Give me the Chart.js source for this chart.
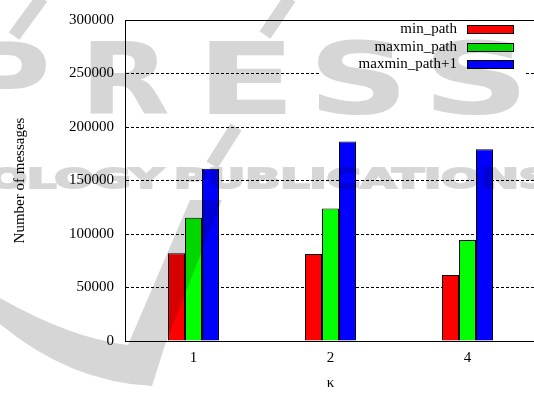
<!DOCTYPE html>
<html>
<head>
<meta charset="utf-8">
<script src="https://cdn.jsdelivr.net/npm/chart.js@4/dist/chart.umd.min.js"></script>
<style>
  html, body { margin: 0; padding: 0; background: #fff; overflow: hidden; }
  #wrap { width: 536px; height: 393px; }
</style>
</head>
<body>
<div id="wrap"><canvas id="c" width="536" height="393"></canvas></div>
<script>
// Number of messages for each value of kappa
const categories = ['1', '2', '4'];
const minPath = [82000, 81300, 61700];
const maxminPath = [115300, 123900, 94500];
const maxminPathPlus1 = [161000, 186500, 179200];
const yTickValues = [0, 50000, 100000, 150000, 200000, 250000, 300000];
const seriesNames = ['min_path', 'maxmin_path', 'maxmin_path+1'];
const seriesColors = ['#ff0000', '#00ff00', '#0000ff'];

const FONT = "'Liberation Serif', 'Times New Roman', serif";

// Key in the upper right corner of the plot, text left of each swatch
const keyPlugin = {
  id: 'key',
  afterDatasetsDraw(chart) {
    const ctx = chart.ctx;
    ctx.save();
    ctx.fillStyle = '#fff';
    ctx.fillRect(320, 19, 205, 57);
    ctx.font = '15px ' + FONT;
    ctx.textAlign = 'right';
    ctx.textBaseline = 'middle';
    chart.data.datasets.forEach((ds, i) => {
      const cy = 29.5 + i * 17.5;
      ctx.fillStyle = '#000';
      ctx.fillText(ds.label, 457, cy);
      ctx.fillStyle = ds.backgroundColor;
      ctx.fillRect(467, Math.round(cy - 4.5), 47, 9);
      ctx.strokeStyle = '#000';
      ctx.lineWidth = 1;
      ctx.strokeRect(467.5, Math.round(cy - 4.5) + 0.5, 46, 8);
    });
    // top edge of the plot frame
    const a = chart.chartArea;
    ctx.beginPath();
    ctx.moveTo(a.left, a.top + 0.5);
    ctx.lineTo(a.right, a.top + 0.5);
    ctx.strokeStyle = '#000';
    ctx.stroke();
    ctx.restore();
  }
};

// Publisher mark laid over the page in light grey
function fitText(c, text, x0, x1, baseline, font, spacing, thicken) {
  c.font = font;
  c.letterSpacing = spacing + 'px';
  const w = c.measureText(text).width - spacing;
  c.save();
  c.translate(x0, baseline);
  c.scale((x1 - x0) / w, 1);
  c.fillText(text, 0, 0);
  if (thicken) {
    c.lineWidth = thicken;
    c.strokeText(text, 0, 0);
  }
  c.restore();
  c.letterSpacing = '0px';
}

const markPlugin = {
  id: 'mark',
  afterDraw(chart) {
    const W = chart.width, H = chart.height;
    const off = document.createElement('canvas');
    off.width = W; off.height = H;
    const o = off.getContext('2d');
    const grey = 'rgb(214,214,214)';
    o.fillStyle = grey;
    o.strokeStyle = grey;
    o.textBaseline = 'alphabetic';
    const big = "bold 99px 'DejaVu Sans'";
    fitText(o, 'P', -40, 51, 114, big, 0, 0);
    fitText(o, 'R', 80, 170, 114, big, 0, 0);
    fitText(o, 'E', 196, 296, 114, big, 0, 0);
    fitText(o, 'S', 308, 409, 114, big, 0, 0);
    fitText(o, 'S', 422, 530, 114, big, 0, 0);
    const small = "bold 27px 'DejaVu Sans'";
    fitText(o, 'OLOGY', -12, 163, 188, small, 0, 2);
    fitText(o, 'PUBLICATIONS', 174, 552, 188, small, 0, 2);
    o.lineCap = 'butt';
    o.lineWidth = 13;
    [[[42, -2], [14, 36]], [[290, -2], [265, 35]], [[236, 127], [212, 165]]].forEach(s => {
      o.beginPath();
      o.moveTo(s[0][0], s[0][1]);
      o.lineTo(s[1][0], s[1][1]);
      o.stroke();
    });
    o.beginPath();
    o.moveTo(190, 200);
    o.lineTo(222, 200);
    o.lineTo(165, 345);
    o.lineTo(152, 386);
    o.quadraticCurveTo(70, 382, 0, 324);
    o.lineTo(0, 298);
    o.quadraticCurveTo(70, 338, 128, 345);
    o.closePath();
    o.fill();
    const ctx = chart.ctx;
    ctx.save();
    ctx.globalCompositeOperation = 'multiply';
    ctx.drawImage(off, 0, 0);
    ctx.restore();
  }
};

const seriesValues = [minPath, maxminPath, maxminPathPlus1];

new Chart(document.getElementById('c'), {
  type: 'bar',
  data: {
    labels: categories,
    datasets: seriesValues.map((vals, i) => ({
      label: seriesNames[i],
      data: vals,
      backgroundColor: seriesColors[i],
      borderColor: '#000',
      borderWidth: 1,
      categoryPercentage: 0.372,
      barPercentage: 1.0
    }))
  },
  options: {
    responsive: false,
    animation: false,
    devicePixelRatio: 1,
    layout: { padding: { top: 15, left: 0, right: 0, bottom: 0 } },
    plugins: {
      legend: { display: false },
      tooltip: { enabled: false }
    },
    scales: {
      x: {
        type: 'category',
        offset: true,
        grid: { display: false, drawTicks: false },
        border: { display: true, color: '#000', width: 1 },
        ticks: { color: '#000', font: { family: FONT, size: 15 }, padding: 8, maxRotation: 0 },
        title: {
          display: true, text: 'κ', color: '#000',
          font: { family: FONT, size: 15 }, padding: { top: 0, bottom: 1 }
        },
        afterFit(s) { s.height = 52; }
      },
      y: {
        min: 0,
        max: 300000,
        afterBuildTicks(s) { s.ticks = yTickValues.map(v => ({ value: v })); },
        grid: { color: '#000', lineWidth: 1, drawTicks: false },
        border: { display: true, color: '#000', width: 1, dash: [3, 2] },
        ticks: {
          color: '#000', font: { family: FONT, size: 15 }, padding: 11,
          callback: v => String(v)
        },
        title: {
          display: true, text: 'Number of messages', color: '#000',
          font: { family: FONT, size: 15 }, padding: { top: 11, bottom: 0 }
        },
        afterFit(s) { s.width = 125; }
      }
    }
  },
  plugins: [keyPlugin, markPlugin]
});
</script>
</body>
</html>
